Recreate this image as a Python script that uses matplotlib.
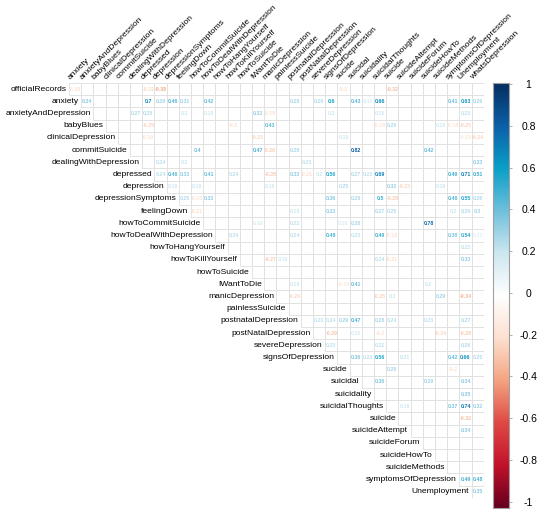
import numpy as np
import matplotlib
matplotlib.use("Agg")
import matplotlib.pyplot as plt
from matplotlib.colors import LinearSegmentedColormap, Normalize
from matplotlib.patches import Rectangle

plt.rcParams['font.family'] = ['Liberation Sans', 'DejaVu Sans']

variables = ["officialRecords", "anxiety", "anxietyAndDepression", "babyBlues",
             "clinicalDepression", "commitSuicide", "dealingWithDepression", "depressed",
             "depression", "depressionSymptoms", "feelingDown", "howToCommitSuicide",
             "howToDealWithDepression", "howToHangYourself", "howToKillYourself",
             "howToSuicide", "IWantToDie", "manicDepression", "painlessSuicide",
             "postnatalDepression", "postNatalDepression", "severeDepression",
             "signsOfDepression", "sucide", "suicidal", "suicidality", "suicidalThoughts",
             "suicide", "suicideAttempt", "suicideForum", "suicideHowTo", "suicideMethods",
             "symptomsOfDepression", "Unemployment", "whatsDepression"]
row_names = variables[:-1]
col_names = variables[1:]

# only the significant correlations are printed, the rest stay blank
r_officialRecords = {"anxiety": -0.18, "depressed": -0.22, "depression": -0.38,
                     "sucide": -0.2, "suicide": -0.32}
r_anxiety = {"anxietyAndDepression": 0.34, "depressed": 0.7, "depression": 0.29,
             "depressionSymptoms": 0.46, "feelingDown": 0.31, "howToDealWithDepression": 0.42,
             "postnatalDepression": 0.28, "severeDepression": 0.26, "signsOfDepression": 0.6,
             "suicidal": 0.43, "suicidality": 0.17, "suicidalThoughts": 0.66,
             "symptomsOfDepression": 0.41, "Unemployment": 0.63, "whatsDepression": 0.29}
r_anxietyAndDepression = {"dealingWithDepression": 0.27, "depressed": 0.25, "feelingDown": 0.2,
                          "howToDealWithDepression": 0.19, "IWantToDie": 0.32,
                          "manicDepression": -0.19, "signsOfDepression": 0.2,
                          "suicidalThoughts": 0.19, "Unemployment": 0.23}
r_babyBlues = {"depressed": -0.25, "howToKillYourself": -0.2, "manicDepression": 0.43,
               "suicidalThoughts": -0.18, "suicide": 0.26, "suicideMethods": 0.19,
               "symptomsOfDepression": -0.18, "Unemployment": -0.25}
r_clinicalDepression = {"depressed": -0.19, "IWantToDie": -0.23, "sucide": 0.19,
                        "Unemployment": -0.15, "whatsDepression": -0.24}
r_commitSuicide = {"howToCommitSuicide": 0.4, "IWantToDie": 0.47, "manicDepression": -0.26,
                   "postnatalDepression": 0.28, "suicidal": 0.82, "suicideHowTo": 0.42}
r_dealingWithDepression = {"depression": 0.24, "feelingDown": 0.2, "postNatalDepression": 0.23,
                           "whatsDepression": 0.33}
r_depressed = {"depression": 0.24, "depressionSymptoms": 0.46, "feelingDown": 0.33,
               "howToDealWithDepression": 0.41, "howToKillYourself": 0.24,
               "manicDepression": -0.28, "postnatalDepression": 0.33,
               "postNatalDepression": -0.21, "severeDepression": 0.2, "signsOfDepression": 0.56,
               "suicidal": 0.27, "suicidality": 0.23, "suicidalThoughts": 0.69,
               "symptomsOfDepression": 0.49, "Unemployment": 0.71, "whatsDepression": 0.51}
r_depression = {"depressionSymptoms": 0.19, "howToCommitSuicide": 0.19, "manicDepression": 0.19,
                "sucide": 0.25, "suicide": 0.32, "suicideAttempt": -0.23, "suicideMethods": 0.19}
r_depressionSymptoms = {"feelingDown": 0.25, "howToCommitSuicide": -0.18,
                        "howToDealWithDepression": 0.33, "signsOfDepression": 0.36,
                        "suicidal": 0.28, "suicidalThoughts": 0.5, "suicide": -0.28,
                        "symptomsOfDepression": 0.46, "Unemployment": 0.55, "whatsDepression": 0.26}
r_feelingDown = {"howToCommitSuicide": -0.21, "postnatalDepression": 0.18,
                 "signsOfDepression": 0.33, "suicidalThoughts": 0.27, "suicide": 0.25,
                 "symptomsOfDepression": 0.2, "Unemployment": 0.26, "whatsDepression": 0.3}
r_howToCommitSuicide = {"IWantToDie": 0.16, "postnatalDepression": 0.22, "sucide": 0.16,
                        "suicidal": 0.28, "suicideHowTo": 0.78}
r_howToDealWithDepression = {"howToKillYourself": 0.24, "postnatalDepression": 0.24,
                             "signsOfDepression": 0.48, "suicidal": 0.23, "suicidalThoughts": 0.49,
                             "suicide": -0.18, "symptomsOfDepression": 0.38, "Unemployment": 0.54,
                             "whatsDepression": 0.13}
r_howToHangYourself = {"Unemployment": 0.23}
r_howToKillYourself = {"manicDepression": -0.27, "painlessSuicide": 0.19,
                       "suicidalThoughts": 0.24, "suicide": -0.21, "Unemployment": 0.33}
r_howToSuicide = {}
r_IWantToDie = {"postnatalDepression": 0.18, "sucide": -0.16, "suicidal": 0.41, "suicideHowTo": 0.2}
r_manicDepression = {"postnatalDepression": -0.24, "suicidalThoughts": -0.25, "suicide": 0.2,
                     "suicideMethods": 0.29, "Unemployment": -0.34}
r_painlessSuicide = {}
r_postnatalDepression = {"severeDepression": 0.23, "signsOfDepression": 0.24, "sucide": 0.29,
                         "suicidal": 0.47, "suicidalThoughts": 0.28, "suicide": 0.24,
                         "suicideHowTo": 0.23, "Unemployment": 0.27}
r_postNatalDepression = {"signsOfDepression": -0.29, "suicidal": 0.16, "suicidalThoughts": -0.2,
                         "suicideMethods": -0.24, "Unemployment": -0.28}
r_severeDepression = {"signsOfDepression": 0.23, "suicidalThoughts": 0.22, "Unemployment": 0.26}
r_signsOfDepression = {"suicidal": 0.36, "suicidality": 0.23, "suicidalThoughts": 0.56,
                       "suicideAttempt": 0.21, "symptomsOfDepression": 0.42, "Unemployment": 0.66,
                       "whatsDepression": 0.25}
r_sucide = {"suicide": 0.28, "symptomsOfDepression": -0.2}
r_suicidal = {"suicidalThoughts": 0.36, "suicideHowTo": 0.29, "Unemployment": 0.34}
r_suicidality = {"Unemployment": 0.35}
r_suicidalThoughts = {"suicideAttempt": 0.19, "symptomsOfDepression": 0.37, "Unemployment": 0.74,
                      "whatsDepression": 0.32}
r_suicide = {"Unemployment": -0.32}
r_suicideAttempt = {"Unemployment": 0.34}
r_suicideForum = {}
r_suicideHowTo = {}
r_suicideMethods = {}
r_symptomsOfDepression = {"Unemployment": 0.49, "whatsDepression": 0.48}
r_Unemployment = {"whatsDepression": 0.35}

row_values = [r_officialRecords, r_anxiety, r_anxietyAndDepression, r_babyBlues,
              r_clinicalDepression, r_commitSuicide, r_dealingWithDepression, r_depressed,
              r_depression, r_depressionSymptoms, r_feelingDown, r_howToCommitSuicide,
              r_howToDealWithDepression, r_howToHangYourself, r_howToKillYourself,
              r_howToSuicide, r_IWantToDie, r_manicDepression, r_painlessSuicide,
              r_postnatalDepression, r_postNatalDepression, r_severeDepression,
              r_signsOfDepression, r_sucide, r_suicidal, r_suicidality, r_suicidalThoughts,
              r_suicide, r_suicideAttempt, r_suicideForum, r_suicideHowTo, r_suicideMethods,
              r_symptomsOfDepression, r_Unemployment]

cb_ticks = [-1, -0.8, -0.6, -0.4, -0.2, 0, 0.2, 0.4, 0.6, 0.8, 1]

cmap = LinearSegmentedColormap.from_list("rdbu_corr", [
    "#67001f", "#c3122b", "#e04a45", "#f4a582", "#fde0d0", "#ffffff",
    "#cde7f0", "#70c0dc", "#0aa0c8", "#0c60a8", "#053061"])
norm = Normalize(-1, 1)

W, H = 550, 511
fig = plt.figure(figsize=(W / 100, H / 100), dpi=100)
n = len(row_names)
cell = 12.2
ax = fig.add_axes([69 / W, (H - 83 - n * cell) / H, n * cell / W, n * cell / H])
ax.set_xlim(0, n)
ax.set_ylim(n, 0)
ax.axis("off")

for i, (rname, vals) in enumerate(zip(row_names, row_values)):
    for j in range(i, n):
        ax.add_patch(Rectangle((j, i), 1, 1, facecolor="white", edgecolor="#dedede", lw=0.6))
    for cname, v in vals.items():
        j = col_names.index(cname)
        ax.text(j + 0.5, i + 0.5, f"{v:g}", ha="center", va="center", fontsize=3.8,
                fontweight="bold", color=cmap(norm(v)))
    ax.text(i - 0.2, i + 0.5, rname, ha="right", va="center", fontsize=6.1, color="black")

for j, cname in enumerate(col_names):
    ax.text(j + 0.2, -0.2, cname, rotation=45, rotation_mode="anchor", ha="left",
            va="bottom", fontsize=6.1, color="black")

# colour legend: the bar runs a little past -1 / 1 like corrplot's colorlegend
lo, hi = -1.03, 1.005
cax = fig.add_axes([493 / W, (H - 508) / H, 15.5 / W, 425 / H])
grad = np.linspace(lo, hi, 400).reshape(-1, 1)
cax.imshow(grad, cmap=cmap, norm=Normalize(lo, hi), aspect="auto", origin="lower",
           extent=[0, 1, lo, hi])
cax.set_xlim(0, 1)
cax.set_ylim(lo, hi)
cax.set_xticks([])
cax.yaxis.tick_right()
cax.set_yticks(cb_ticks)
cax.set_yticklabels([f"{t:g}" for t in cb_ticks])
cax.tick_params(axis="y", length=2.5, width=0.6, color="#a0a0a0", pad=12, labelsize=7.5)
for lab in cax.get_yticklabels():
    lab.set_horizontalalignment("center")
for sp in cax.spines.values():
    sp.set_edgecolor("#a0a0a0")
    sp.set_linewidth(0.8)

fig.savefig("out.png", dpi=100)
